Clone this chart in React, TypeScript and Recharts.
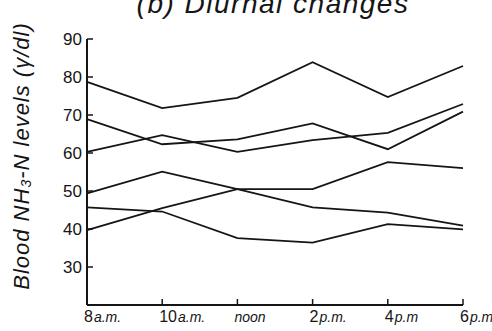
import React from 'react';
import { LineChart, Line, XAxis, YAxis } from 'recharts';

const timeNumbers = ['8', '10', '', '2', '4', '6'];
const timeSuffixes = ['a.m.', 'a.m.', 'noon', 'p.m.', 'p.m', 'p.m'];
const yTicks = [30, 40, 50, 60, 70, 80, 90];

const seriesA = [78.7, 71.8, 74.5, 83.9, 74.7, 82.9];
const seriesB = [60.3, 64.7, 60.3, 63.4, 65.3, 72.9];
const seriesC = [68.9, 62.3, 63.6, 67.8, 61.0, 70.9];
const seriesD = [49.4, 55.1, 50.5, 45.7, 44.3, 40.9];
const seriesE = [39.7, 45.5, 50.5, 50.5, 57.6, 56.0];
const seriesF = [45.7, 44.6, 37.6, 36.4, 41.3, 39.9];

const data = timeNumbers.map((_, i) => ({
  t: i,
  a: seriesA[i],
  b: seriesB[i],
  c: seriesC[i],
  d: seriesD[i],
  e: seriesE[i],
  f: seriesF[i],
}));

const INK = '#151515';
const FONT = '"Liberation Sans", Arial, sans-serif';

const YTick = (props: any) => {
  const { x, y, payload } = props;
  return (
    <g>
      <line x1={x} x2={x + 6} y1={y} y2={y} stroke={INK} strokeWidth={1.5} />
      <text x={x - 5} y={y} textAnchor="end" dominantBaseline="central" fontSize={17} fill={INK} fontFamily={FONT}>
        {payload.value}
      </text>
    </g>
  );
};

const XTick = (props: any) => {
  const { x, y, payload } = props;
  const i = payload.value as number;
  return (
    <g>
      <line x1={x} x2={x} y1={y} y2={y - 6} stroke={INK} strokeWidth={1.5} />
      <text x={x - 3} y={y + 17} textAnchor="start" fontSize={14} fill={INK} fontFamily={FONT}>
        {timeNumbers[i] ? <tspan fontSize={16}>{timeNumbers[i]}</tspan> : null}
        <tspan fontStyle="italic" dx={timeNumbers[i] ? 1 : 0}>{timeSuffixes[i]}</tspan>
      </text>
    </g>
  );
};

export default function App() {
  const keys = ['a', 'b', 'c', 'd', 'e', 'f'];
  return (
    <div style={{ position: 'absolute', left: 0, top: 0, width: 492, height: 331, background: '#fff', overflow: 'hidden' }}>
      <div
        style={{
          position: 'absolute',
          top: -10,
          left: 0,
          width: 546,
          textAlign: 'center',
          fontFamily: FONT,
          fontStyle: 'italic',
          fontSize: 28,
          lineHeight: '28px',
          letterSpacing: 1.5,
          color: INK,
          whiteSpace: 'nowrap',
        }}
      >
        (b) Diurnal changes
      </div>
      <div
        style={{
          position: 'absolute',
          left: 22,
          top: 156,
          transform: 'translate(-50%, -50%) rotate(-90deg)',
          fontFamily: FONT,
          fontStyle: 'italic',
          fontSize: 22,
          letterSpacing: 1,
          color: INK,
          whiteSpace: 'nowrap',
        }}
      >
        Blood NH<sub style={{ fontSize: 14, verticalAlign: '-2px' }}>3</sub>-N levels (γ/dl)
      </div>
      <LineChart
        width={492}
        height={331}
        data={data}
        margin={{ top: 39, right: 29, left: 0, bottom: 0 }}
        style={{ position: 'absolute', left: 0, top: 0 }}
      >
        <XAxis
          dataKey="t"
          type="number"
          domain={[0, 5]}
          ticks={[0, 1, 2, 3, 4, 5]}
          interval={0}
          height={26}
          tickSize={0}
          tickMargin={0}
          tickLine={false}
          axisLine={{ stroke: INK, strokeWidth: 2 }}
          tick={<XTick />}
        />
        <YAxis
          type="number"
          domain={[20, 90]}
          ticks={yTicks}
          interval={0}
          width={87}
          tickSize={0}
          tickMargin={0}
          tickLine={false}
          axisLine={{ stroke: INK, strokeWidth: 2 }}
          tick={<YTick />}
        />
        {keys.map((k) => (
          <Line
            key={k}
            dataKey={k}
            type="linear"
            stroke={INK}
            strokeWidth={1.8}
            dot={false}
            activeDot={false}
            isAnimationActive={false}
          />
        ))}
      </LineChart>
    </div>
  );
}
